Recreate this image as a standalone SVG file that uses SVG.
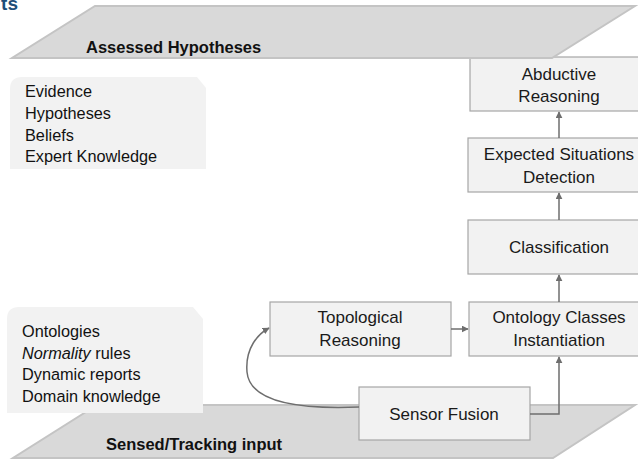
<svg xmlns="http://www.w3.org/2000/svg" width="638" height="462" viewBox="0 0 638 462">
<style>
  .plane { fill: #d9d9d9; stroke: #c4c4c4; stroke-width: 2; }
  .plane-label { font-family: "Liberation Sans", Arial, sans-serif; font-weight: bold; font-size: 16.5px; fill: #111; }
  .info { fill: #f2f2f2; }
  .info-text { font-family: "Liberation Sans", Arial, sans-serif; font-size: 16.3px; fill: #111; }
  .box { fill: #f2f2f2; stroke: #a6a6a6; stroke-width: 1.2; }
  .lbl { font-family: "Liberation Sans", Arial, sans-serif; font-size: 17px; fill: #1a1a1a; text-anchor: middle; }
  .conn { fill: none; stroke: #6e6e6e; stroke-width: 1.5; marker-end: url(#arr); }
</style>
<defs>
  <marker id="arr" viewBox="0 0 10 10" refX="9" refY="5" markerWidth="7" markerHeight="7" markerUnits="userSpaceOnUse" orient="auto">
    <path d="M0,0 L10,5 L0,10 z" fill="#6e6e6e"/>
  </marker>
</defs>

<text x="18" y="10" font-family="Liberation Sans, Arial, sans-serif" font-weight="bold" font-size="19" fill="#1f4e79" text-anchor="end">ts</text>

<g id="abductive">
  <rect class="box" x="470" y="57" width="180" height="54"/>
  <text class="lbl" x="559" y="79.5">Abductive</text>
  <text class="lbl" x="559" y="102">Reasoning</text>
</g>

<g id="assessed-plane">
  <polygon class="plane" points="95,6 635,6 552,58 12,58"/>
  <text class="plane-label" x="86" y="53">Assessed Hypotheses</text>
</g>

<g id="sensed-plane">
  <polygon class="plane" points="97,405 635,405 553,458 13,458"/>
  <text class="plane-label" x="106" y="450">Sensed/Tracking input</text>
</g>

<g id="info-top">
  <path class="info" d="M22,77 H197 L206,88 V169 H10 V89 Q10,77 22,77 Z"/>
  <text class="info-text" x="25" y="97">Evidence</text>
  <text class="info-text" x="25" y="119">Hypotheses</text>
  <text class="info-text" x="25" y="140.5">Beliefs</text>
  <text class="info-text" x="25" y="162">Expert Knowledge</text>
</g>

<g id="info-bottom">
  <path class="info" d="M19,307 H193 L203,319 V413 H7 V319 Q7,307 19,307 Z"/>
  <text class="info-text" x="22" y="337">Ontologies</text>
  <text class="info-text" x="22" y="358.5"><tspan font-style="italic">Normality</tspan> rules</text>
  <text class="info-text" x="22" y="380">Dynamic reports</text>
  <text class="info-text" x="22" y="402">Domain knowledge</text>
</g>

<g id="expected">
  <rect class="box" x="468" y="138" width="182" height="54"/>
  <text class="lbl" x="559" y="159.5">Expected Situations</text>
  <text class="lbl" x="559" y="182.5">Detection</text>
</g>

<g id="classification">
  <rect class="box" x="468" y="220" width="182" height="54"/>
  <text class="lbl" x="559" y="252.5">Classification</text>
</g>

<g id="ontology">
  <rect class="box" x="469" y="302" width="181" height="54"/>
  <text class="lbl" x="559" y="322.5">Ontology Classes</text>
  <text class="lbl" x="559" y="346">Instantiation</text>
</g>

<g id="topological">
  <rect class="box" x="270" y="302" width="181" height="54"/>
  <text class="lbl" x="360" y="322.5">Topological</text>
  <text class="lbl" x="360" y="346">Reasoning</text>
</g>

<g id="sensor-fusion">
  <rect class="box" x="359" y="387" width="171" height="53"/>
  <text class="lbl" x="444" y="420">Sensor Fusion</text>
</g>

<g id="connectors">
  <path class="conn" d="M530,414 H559 V357"/>
  <path class="conn" d="M451,329 H468"/>
  <path class="conn" d="M559,302 V275"/>
  <path class="conn" d="M559,220 V193"/>
  <path class="conn" d="M559,138 V112"/>
  <path class="conn" d="M359,407 C310,409 250,406 247,372 C245,348 258,334 269,328"/>
</g>
</svg>
